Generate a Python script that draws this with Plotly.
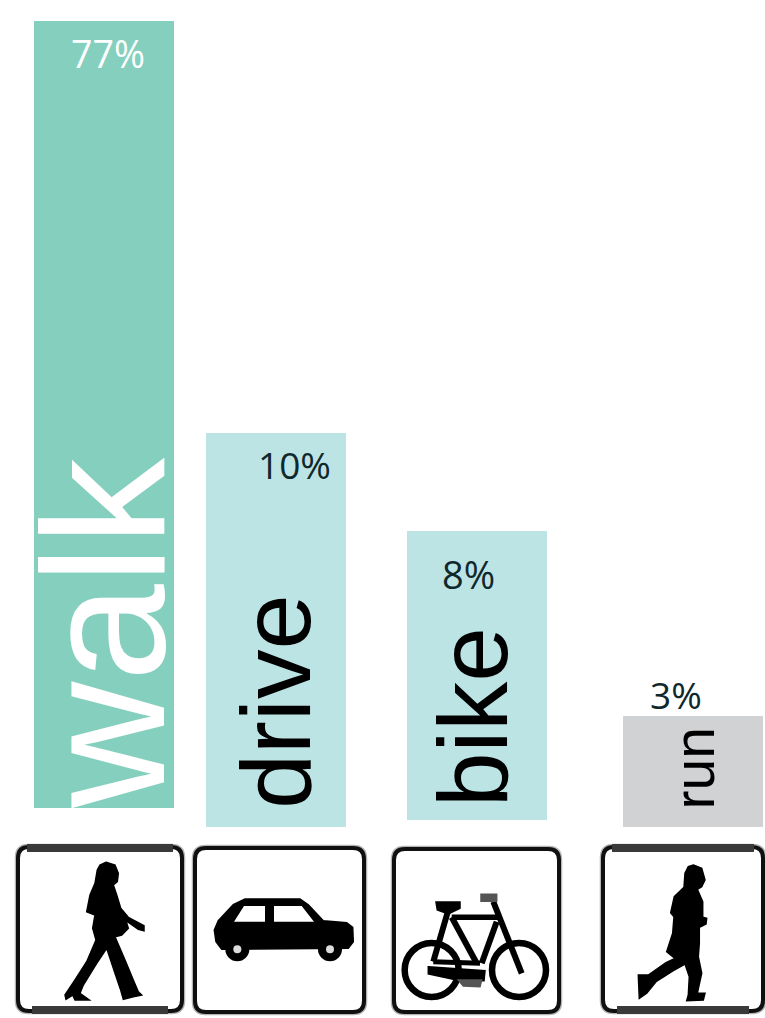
import plotly.graph_objects as go

W, H = 765, 1018

# ---- data ----
categories = ["walk", "drive", "bike", "run"]
percent_labels = ["77%", "10%", "8%", "3%"]
bar_heights = [787, 394, 289, 111]
bar_bases = [210, 191, 198, 191]
bar_centres = [104, 276, 477, 693]
bar_colours = ["#84cfbd", "#bce4e4", "#bce4e4", "#d1d2d4"]

# ---- label styling ----
name_pos = [(103, 633), (275, 702), (473, 717), (693, 768.5)]
name_size = [175, 99, 98, 57]
name_colour = ["#ffffff", "#000000", "#000000", "#000000"]
pct_pos = [(108, 53), (294, 464), (468, 574), (676, 694)]
pct_size = [37.5, 37, 38, 37]
pct_colour = ["#ffffff", "#10282c", "#10282c", "#10282c"]


def Y(py):
    return H - py


def poly(points, ox, oy, scale=1 / 3):
    parts = []
    for i, (a, b) in enumerate(points):
        parts.append(f"{'M' if i == 0 else 'L'}{ox + a * scale:.1f},{Y(oy + b * scale):.1f}")
    return " ".join(parts) + " Z"


def rounded(x0, y0, x1, y1, r):
    yt, yb = Y(y0), Y(y1)
    return (f"M{x0 + r},{yt} L{x1 - r},{yt} Q{x1},{yt} {x1},{yt - r} L{x1},{yb + r} "
            f"Q{x1},{yb} {x1 - r},{yb} L{x0 + r},{yb} Q{x0},{yb} {x0},{yb + r} "
            f"L{x0},{yt - r} Q{x0},{yt} {x0 + r},{yt} Z")


shapes = []


def fill(path, colour="#000000", edge=1.5):
    shapes.append(dict(type="path", path=path, fillcolor=colour,
                       line=dict(width=edge, color=colour),
                       xref="x", yref="y", layer="above"))


def stroke_path(path, colour="#000000", w=3):
    shapes.append(dict(type="path", path=path, line=dict(color=colour, width=w),
                       xref="x", yref="y", layer="above"))


def circle(cx, cy, r, fc=None, lc="#000000", w=0):
    shapes.append(dict(type="circle", x0=cx - r, x1=cx + r, y0=Y(cy + r), y1=Y(cy - r),
                       fillcolor=fc if fc else "rgba(0,0,0,0)",
                       line=dict(color=lc, width=w), xref="x", yref="y", layer="above"))


def frame(x0, y0, x1, y1, thick):
    stroke_path(rounded(x0 - 1.5, y0 - 1.5, x1 + 1.5, y1 + 1.5, 12), "#b4b4b4", 3.5)
    stroke_path(rounded(x0, y0, x1, y1, 11), "#101010", 4)
    if thick:
        stroke_path(f"M{x0 + 9},{Y(y0 + 1)} L{x1 - 9},{Y(y0 + 1)}", "#3a3a3a", 8)
        stroke_path(f"M{x0 + 14},{Y(y1 - 1)} L{x1 - 14},{Y(y1 - 1)}", "#3a3a3a", 8)


frame(18, 847, 182, 1011, True)
frame(195, 848, 364, 1012, False)
frame(394, 849, 559, 1012, False)
frame(603, 847, 763, 1011, True)

# walker
fill(poly([(318, 97), (345, 105), (355, 130), (352, 155), (340, 165), (350, 195), (362, 235), (385, 262),
           (432, 287), (432, 302), (415, 298), (378, 272), (385, 295), (365, 315), (345, 320), (375, 390),
           (400, 450), (415, 485), (425, 495), (400, 500), (370, 508), (362, 480), (345, 430), (320, 355),
           (290, 400), (250, 465), (240, 490), (268, 510), (225, 510), (218, 495), (198, 508), (195, 495),
           (225, 450), (260, 395), (288, 330), (278, 295), (285, 255), (260, 245), (270, 195), (285, 160),
           (292, 120), (300, 105)], 0, 830))

# car
fill(poly([(735, 207), (900, 207), (925, 224), (970, 272), (1040, 278), (1058, 292), (1060, 335), (1045, 355),
           (665, 358), (648, 335), (643, 300), (655, 272), (700, 224)], 0, 830))
fill(poly([(702, 275), (732, 228), (795, 228), (795, 275)], 0, 830), "#ffffff", 0)
fill(poly([(822, 228), (905, 228), (942, 275), (822, 275)], 0, 830), "#ffffff", 0)
for cx in (712 / 3, 990 / 3):
    circle(cx, 830 + 358 / 3, 12, "#000000")
    circle(cx, 830 + 358 / 3, 4, "#dddddd")

# bicycle
bx, by = 380, 830
for cx in (155, 417):
    circle(bx + cx / 3, by + 420 / 3, 27, None, "#000000", 6.5)
for seg, w in [([(205, 240), (160, 395)], 6), ([(215, 262), (355, 262)], 5.5), ([(215, 262), (290, 400)], 6),
               ([(350, 275), (305, 400)], 6), ([(340, 215), (425, 430)], 6), ([(160, 395), (300, 400)], 5)]:
    stroke_path(" ".join(f"{'M' if i == 0 else 'L'}{bx + a / 3:.1f},{Y(by + b / 3):.1f}"
                         for i, (a, b) in enumerate(seg)), "#000000", w)
fill(poly([(168, 216), (240, 216), (240, 235), (205, 252), (172, 240)], bx, by))
fill(poly([(303, 193), (350, 193), (350, 214), (303, 214)], bx, by), "#555555")
fill(poly([(145, 410), (315, 422), (312, 452), (230, 450), (145, 432)], bx, by))
fill(poly([(235, 450), (305, 450), (300, 470), (250, 468)], bx, by), "#555555")

# runner
fill(poly([(940, 105), (965, 115), (975, 150), (965, 170), (952, 178), (968, 215), (968, 262), (980, 265),
           (978, 282), (958, 292), (958, 340), (955, 380), (965, 430), (952, 490), (975, 490), (970, 510),
           (920, 512), (925, 495), (928, 440), (915, 402), (880, 422), (828, 455), (800, 490), (778, 505),
           (775, 435), (805, 435), (858, 398), (885, 385), (860, 365), (878, 310), (882, 260), (872, 248),
           (883, 200), (912, 172), (915, 130), (925, 110)], 380, 830))

fig = go.Figure(go.Bar(
    x=bar_centres, y=bar_heights, base=bar_bases, width=140,
    marker=dict(color=bar_colours, line=dict(width=0)),
    hoverinfo="skip",
))

annotations = []
for name, (x, py), s, c in zip(categories, name_pos, name_size, name_colour):
    annotations.append(dict(x=x, y=Y(py), text=name, textangle=-90, showarrow=False,
                            xanchor="center", yanchor="middle",
                            font=dict(family="Liberation Sans", size=s, color=c)))
for label, (x, py), s, c in zip(percent_labels, pct_pos, pct_size, pct_colour):
    annotations.append(dict(x=x, y=Y(py), text=label, showarrow=False,
                            xanchor="center", yanchor="middle",
                            font=dict(family="Open Sans", size=s, color=c)))

fig.update_layout(
    width=W, height=H, margin=dict(l=0, r=0, t=0, b=0),
    paper_bgcolor="#ffffff", plot_bgcolor="#ffffff", showlegend=False,
    xaxis=dict(range=[0, W], visible=False, fixedrange=True),
    yaxis=dict(range=[0, H], visible=False, fixedrange=True),
    shapes=shapes, annotations=annotations,
)
fig.write_html("out.html", config=dict(displayModeBar=False),
               default_width=f"{W}px", default_height=f"{H}px",
               post_script="document.body.style.margin='0';")
